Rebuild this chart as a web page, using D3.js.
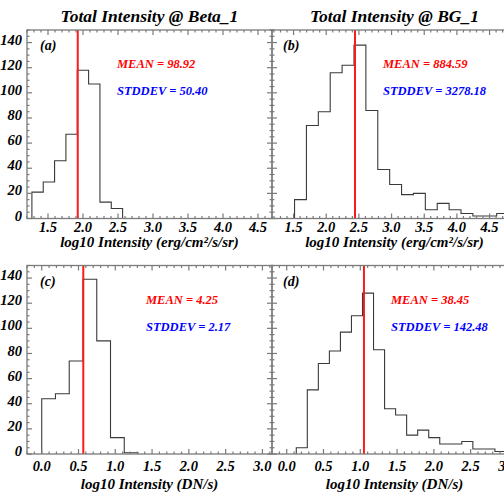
<!DOCTYPE html>
<html>
<head>
<meta charset="utf-8">
<script src="https://cdn.jsdelivr.net/npm/d3@7"></script>
<style>
  html, body { margin: 0; padding: 0; background: #fff; overflow: hidden; }
  svg { display: block; }
</style>
</head>
<body>
<div id="chart"></div>
<script>
// ---------- data ----------
const titles = ["Total Intensity @ Beta_1", "Total Intensity @ BG_1"];
const panelLabels = ["(a)", "(b)", "(c)", "(d)"];
const xTitles = ["log10 Intensity (erg/cm\u00B2/s/sr)", "log10 Intensity (DN/s)"];

// histogram bins: first bin edge, bin width, counts
const betaErgStart = 1.27, betaErgWidth = 0.162;
const betaErgCounts = [21, 29, 46, 67, 118, 107, 13, 8];

const bgErgStart = 1.515, bgErgWidth = 0.182;
const bgErgCounts = [15, 74, 85, 116, 122, 138, 86, 39, 27, 19, 20, 7, 12, 7, 4, 2, 2, 4];

const betaDnStart = 0.0, betaDnWidth = 0.187;
const betaDnCounts = [44, 48, 74, 139, 90, 13, 1];

const bgDnStart = 0.13, bgDnWidth = 0.15;
const bgDnCounts = [5, 51, 72, 82, 97, 110, 128, 83, 36, 31, 15, 19, 13, 8, 8, 10, 4, 4, 2, 2, 2];

// position of the vertical (red) line, log10 units
const meanLines = [1.925, 2.44, 0.565, 1.05];
const meanTexts = ["MEAN = 98.92", "MEAN = 884.59", "MEAN = 4.25", "MEAN = 38.45"];
const stdTexts = ["STDDEV = 50.40", "STDDEV = 3278.18", "STDDEV = 2.17", "STDDEV = 142.48"];

const xDomainErg = [1.2, 4.7];
const xDomainErgB = [1.17, 4.92];
const xDomainDn = [-0.2, 3.13];
const yDomain = [0, 150];

const xTicksErg = [1.5, 2.0, 2.5, 3.0, 3.5, 4.0, 4.5];
const xTicksDn = [0.0, 0.5, 1.0, 1.5, 2.0, 2.5, 3.0];
const yTicks = [0, 20, 40, 60, 80, 100, 120, 140];

// ---------- layout ----------
const W = 504, H = 500;
const pw = 245, ph = 188.5;
const FONT = "Liberation Serif";
const panels = [
  { left: 27,  top: 30,  xd: xDomainErg,  xt: xTicksErg, start: betaErgStart, width: betaErgWidth, counts: betaErgCounts, row: 0, col: 0 },
  { left: 272, top: 30,  xd: xDomainErgB, xt: xTicksErg, start: bgErgStart,   width: bgErgWidth,   counts: bgErgCounts,   row: 0, col: 1 },
  { left: 27,  top: 265.5, xd: xDomainDn, xt: xTicksDn,  start: betaDnStart,  width: betaDnWidth,  counts: betaDnCounts,  row: 1, col: 0 },
  { left: 272, top: 265.5, xd: xDomainDn, xt: xTicksDn,  start: bgDnStart,    width: bgDnWidth,    counts: bgDnCounts,    row: 1, col: 1 }
];

const svg = d3.select("#chart").append("svg")
  .attr("width", W).attr("height", H)
  .style("background", "#fff");

const axisColor = "#7a7a7a";
const majorLen = 5, minorLen = 2.5;

function label(g, x, y, txt, size, color) {
  return g.append("text").attr("x", x).attr("y", y)
    .attr("font-family", FONT).attr("font-weight", "bold").attr("font-style", "italic")
    .attr("font-size", size).attr("fill", color || "#000").text(txt);
}

panels.forEach((p, i) => {
  const x = d3.scaleLinear().domain(p.xd).range([p.left, p.left + pw]);
  const y = d3.scaleLinear().domain(yDomain).range([p.top + ph, p.top]);
  const g = svg.append("g");

  const clipId = "clip" + i;
  svg.append("clipPath").attr("id", clipId).append("rect")
    .attr("x", p.left).attr("y", p.top).attr("width", pw).attr("height", ph);

  // histogram step line
  const edges = p.counts.map((c, k) => p.start + k * p.width);
  const endEdge = p.start + p.counts.length * p.width;
  let path = d3.path();
  path.moveTo(x(edges[0]), y(0));
  p.counts.forEach((c, k) => {
    path.lineTo(x(edges[k]), y(c));
    path.lineTo(x(edges[k] + p.width), y(c));
  });
  path.lineTo(x(endEdge), y(0));
  g.append("path").attr("d", path.toString())
    .attr("clip-path", `url(#${clipId})`)
    .attr("fill", "none").attr("stroke", "#3a3a3a").attr("stroke-width", 1.1);

  // mean line
  g.append("line")
    .attr("x1", x(meanLines[i])).attr("x2", x(meanLines[i]))
    .attr("y1", y.range()[0]).attr("y2", y.range()[1])
    .attr("stroke", "#ff1a1a").attr("stroke-width", 2);

  // frame
  g.append("rect").attr("x", p.left).attr("y", p.top).attr("width", pw).attr("height", ph)
    .attr("fill", "none").attr("stroke", axisColor).attr("stroke-width", 1.3);

  // x ticks (bottom & top), minor every 0.1
  const [x0, x1] = p.xd;
  const minorX = d3.range(Math.ceil(x0 * 10), Math.floor(x1 * 10) + 1).map(v => v / 10);
  minorX.forEach(v => {
    const isMajor = Math.abs(v * 2 - Math.round(v * 2)) < 1e-6;
    const len = isMajor ? majorLen : minorLen;
    const xx = x(v);
    g.append("line").attr("x1", xx).attr("x2", xx).attr("y1", p.top + ph).attr("y2", p.top + ph - len)
      .attr("stroke", axisColor).attr("stroke-width", 1.2);
    g.append("line").attr("x1", xx).attr("x2", xx).attr("y1", p.top).attr("y2", p.top + len)
      .attr("stroke", axisColor).attr("stroke-width", 1.2);
  });
  // y ticks (left & right), minor every 5
  d3.range(0, 151, 5).forEach(v => {
    const isMajor = v % 20 === 0;
    const len = isMajor ? majorLen : minorLen;
    const yy = y(v);
    g.append("line").attr("x1", p.left).attr("x2", p.left + len).attr("y1", yy).attr("y2", yy)
      .attr("stroke", axisColor).attr("stroke-width", 1.2);
    g.append("line").attr("x1", p.left + pw).attr("x2", p.left + pw - len).attr("y1", yy).attr("y2", yy)
      .attr("stroke", axisColor).attr("stroke-width", 1.2);
  });

  // x tick labels
  const labelBase = p.row === 0 ? 232 : 471;
  p.xt.forEach(v => {
    label(g, x(v), labelBase, d3.format(".1f")(v), 14.5).attr("text-anchor", "middle");
  });
  // y tick labels (left column only)
  if (p.col === 0) {
    yTicks.forEach(v => {
      label(g, p.left - 5, y(v) - 3, v, 14.5).attr("dy", "0.35em").attr("text-anchor", "end");
    });
  }

  // x title
  label(g, p.left + pw / 2, p.row === 0 ? 247 : 489, xTitles[p.row], 15).attr("text-anchor", "middle");

  // panel title (top row)
  if (p.row === 0) {
    label(g, p.left + pw / 2, 22, titles[p.col], 17.5).attr("text-anchor", "middle");
  }

  // panel label
  label(g, p.left + (p.col === 0 ? 13 : 11), p.top + 20, panelLabels[i], 14);

  // mean / stddev
  const tx = p.col === 0 ? (p.row === 0 ? 117 : 146) : (p.row === 0 ? 383 : 391);
  label(g, tx, p.top + 38, meanTexts[i], 12.5, "#ff0000");
  label(g, tx, p.top + 65, stdTexts[i], 12.5, "#0000ff");
});
</script>
</body>
</html>
